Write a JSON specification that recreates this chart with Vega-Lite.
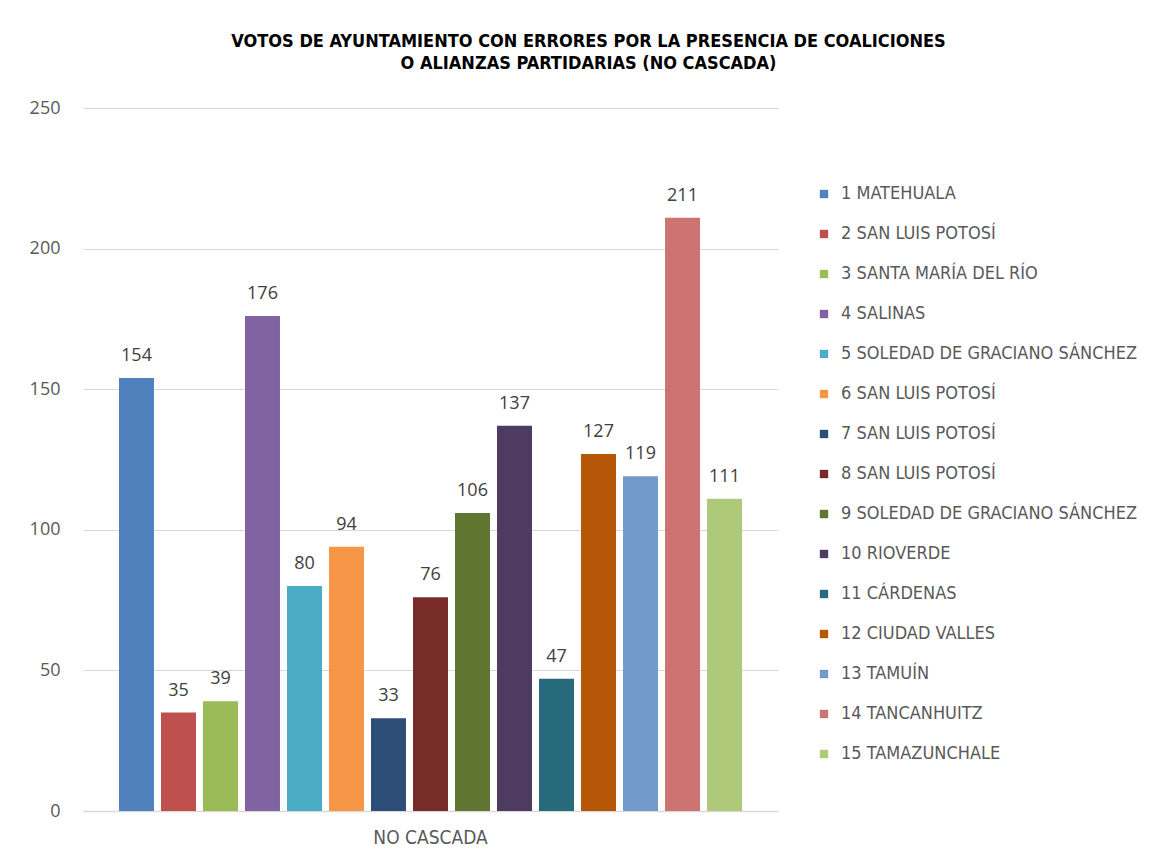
{
  "$schema": "https://vega.github.io/schema/vega-lite/v6.json",
  "autosize": "none",
  "padding": {"left": 83, "top": 108, "right": 389, "bottom": 54},
  "width": 695,
  "height": 703,
  "background": "white",
  "title": {
    "text": ["VOTOS DE AYUNTAMIENTO CON ERRORES POR LA PRESENCIA DE COALICIONES", "O ALIANZAS PARTIDARIAS (NO CASCADA)"],
    "font": "'DejaVu Sans Condensed', 'Liberation Sans', sans-serif",
    "fontSize": 18,
    "fontWeight": "bold",
    "color": "#000000",
    "anchor": "middle",
    "frame": "group",
    "dx": 158,
    "offset": 26,
    "lineHeight": 22
  },
  "data": {
    "values": [
      {"grupo": "NO CASCADA", "municipio": "1 MATEHUALA", "orden": 1, "votos": 154},
      {"grupo": "NO CASCADA", "municipio": "2 SAN LUIS POTOSÍ", "orden": 2, "votos": 35},
      {"grupo": "NO CASCADA", "municipio": "3 SANTA MARÍA DEL RÍO", "orden": 3, "votos": 39},
      {"grupo": "NO CASCADA", "municipio": "4 SALINAS", "orden": 4, "votos": 176},
      {"grupo": "NO CASCADA", "municipio": "5 SOLEDAD DE GRACIANO SÁNCHEZ", "orden": 5, "votos": 80},
      {"grupo": "NO CASCADA", "municipio": "6 SAN LUIS POTOSÍ", "orden": 6, "votos": 94},
      {"grupo": "NO CASCADA", "municipio": "7 SAN LUIS POTOSÍ", "orden": 7, "votos": 33},
      {"grupo": "NO CASCADA", "municipio": "8 SAN LUIS POTOSÍ", "orden": 8, "votos": 76},
      {"grupo": "NO CASCADA", "municipio": "9 SOLEDAD DE GRACIANO SÁNCHEZ", "orden": 9, "votos": 106},
      {"grupo": "NO CASCADA", "municipio": "10 RIOVERDE", "orden": 10, "votos": 137},
      {"grupo": "NO CASCADA", "municipio": "11 CÁRDENAS", "orden": 11, "votos": 47},
      {"grupo": "NO CASCADA", "municipio": "12 CIUDAD VALLES", "orden": 12, "votos": 127},
      {"grupo": "NO CASCADA", "municipio": "13 TAMUÍN", "orden": 13, "votos": 119},
      {"grupo": "NO CASCADA", "municipio": "14 TANCANHUITZ", "orden": 14, "votos": 211},
      {"grupo": "NO CASCADA", "municipio": "15 TAMAZUNCHALE", "orden": 15, "votos": 111}
    ]
  },
  "encoding": {
    "x": {
      "field": "grupo",
      "type": "nominal",
      "title": null,
      "scale": {"paddingInner": 0, "paddingOuter": 0.0516},
      "axis": {
        "labelAngle": 0,
        "ticks": false,
        "domainColor": "#d9d9d9",
        "domainWidth": 1.5,
        "labelFont": "'DejaVu Sans Condensed', 'Liberation Sans', sans-serif",
        "labelFontSize": 19,
        "labelColor": "#595959",
        "labelPadding": 17
      }
    },
    "xOffset": {
      "field": "municipio",
      "type": "nominal",
      "sort": {"field": "orden"},
      "scale": {"paddingInner": 0.167, "paddingOuter": 0.083}
    },
    "y": {
      "field": "votos",
      "type": "quantitative",
      "title": null,
      "scale": {"domain": [0, 250]},
      "axis": {
        "values": [0, 50, 100, 150, 200, 250],
        "domain": false,
        "ticks": false,
        "gridColor": "#d9d9d9",
        "gridWidth": 1.2,
        "labelFont": "Open Sans",
        "labelFontSize": 18,
        "labelColor": "#595959",
        "labelPadding": 23
      }
    }
  },
  "layer": [
    {
      "mark": {"type": "bar"},
      "encoding": {
        "color": {
          "field": "municipio",
          "type": "nominal",
          "sort": {"field": "orden"},
          "scale": {
            "domain": ["1 MATEHUALA", "2 SAN LUIS POTOSÍ", "3 SANTA MARÍA DEL RÍO", "4 SALINAS", "5 SOLEDAD DE GRACIANO SÁNCHEZ", "6 SAN LUIS POTOSÍ", "7 SAN LUIS POTOSÍ", "8 SAN LUIS POTOSÍ", "9 SOLEDAD DE GRACIANO SÁNCHEZ", "10 RIOVERDE", "11 CÁRDENAS", "12 CIUDAD VALLES", "13 TAMUÍN", "14 TANCANHUITZ", "15 TAMAZUNCHALE"],
            "range": ["#4F81BD", "#C0504D", "#9BBB59", "#8064A2", "#4BACC6", "#F79646", "#2C4D75", "#772C2A", "#5F7530", "#4D3B62", "#276A7C", "#B65708", "#729ACA", "#CD7371", "#AFC97A"]
          },
          "legend": {
            "title": null,
            "orient": "none",
            "legendX": 732,
            "legendY": 77,
            "symbolType": "square",
            "symbolSize": 70,
            "symbolStrokeWidth": 0,
            "labelFont": "'DejaVu Sans Condensed', 'Liberation Sans', sans-serif",
            "labelFontSize": 18,
            "labelColor": "#595959",
            "labelLimit": 400,
            "labelOffset": 8,
            "rowPadding": 22
          }
        }
      }
    },
    {
      "mark": {"type": "text", "baseline": "bottom", "dy": -13, "font": "Open Sans", "fontSize": 18, "color": "#404040"},
      "encoding": {
        "text": {"field": "votos", "type": "quantitative"}
      }
    }
  ],
  "config": {
    "view": {"stroke": null}
  }
}
